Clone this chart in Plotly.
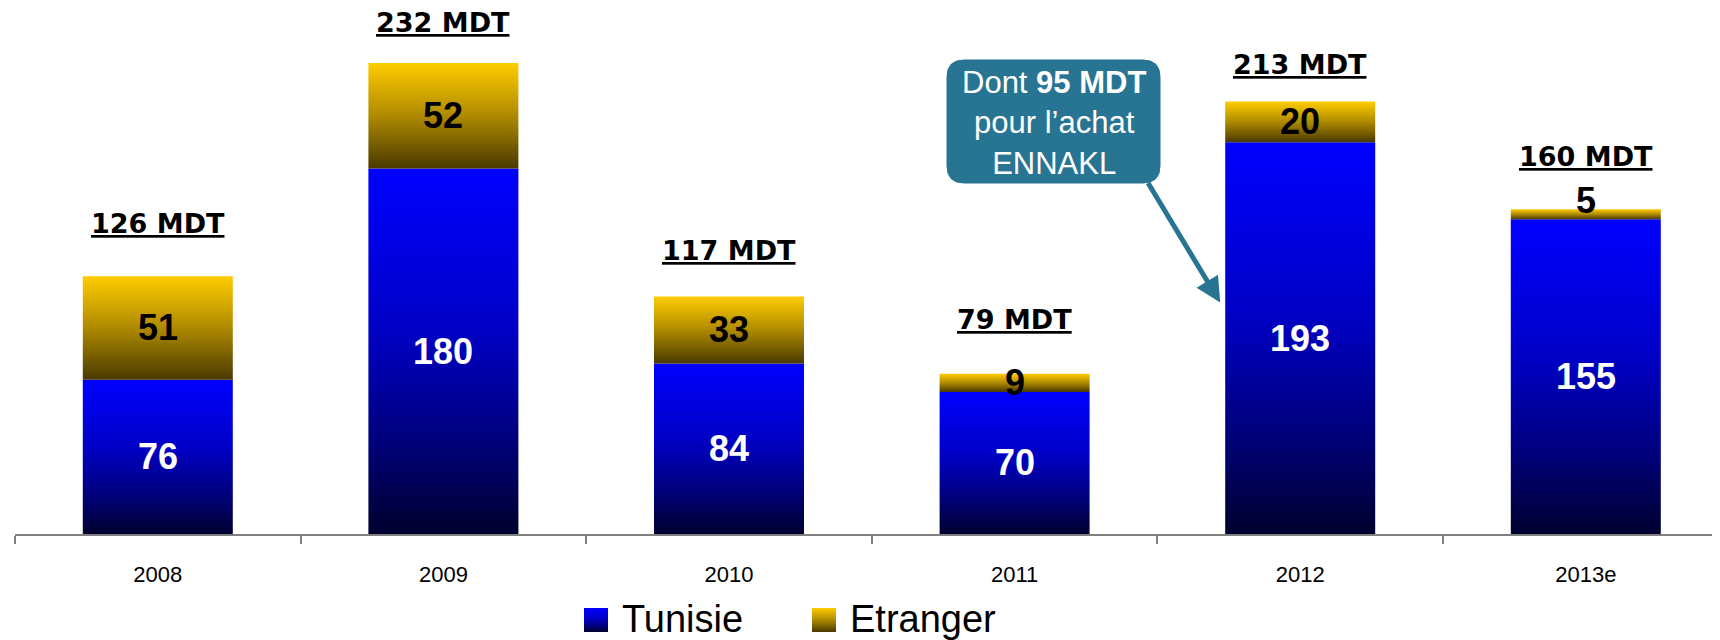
import plotly.graph_objects as go

# ---------------- data ----------------
years = ["2008", "2009", "2010", "2011", "2012", "2013e"]
tunisie = [76, 180, 84, 70, 193, 155]
etranger = [51, 52, 33, 9, 20, 5]
totals = [126, 232, 117, 79, 213, 160]
series_names = ["Tunisie", "Etranger"]
callout_text = "Dont <b>95 MDT</b><br>pour l’achat<br>ENNAKL"
callout_year = "2012"

# ---------------- layout constants ----------------
# the page body has an 8px margin, so the figure is drawn 8px smaller
W, H = 1712, 632
AXIS_Y = 526          # figure pixel row of the x axis line
X0 = 7                # figure pixel column where the x axis starts
CAT_W = 285.6         # pixel width of one category
PX_PER_UNIT = 2.03
BAR_HALF = 75 / CAT_W
FONT = "Liberation Sans, Arial, sans-serif"
WIDE_FONT = "DejaVu Sans, Liberation Sans, Arial, sans-serif"

blue_scale = [[0, "#00002e"], [0.25, "#00007a"], [0.55, "#0000c4"], [1, "#0000ff"]]
gold_scale = [[0, "#4a3900"], [0.5, "#ae8a00"], [1, "#ffcc00"]]
scales = {"Tunisie": blue_scale, "Etranger": gold_scale}
CALLOUT = "#287493"

def py(y):  # figure pixel row -> overlay axis value
    return H - y

fig = go.Figure()

# stacked bars drawn as gradient-filled rectangles on a numeric axis
for i, yr in enumerate(years):
    base = 0
    for name, vals in zip(series_names, [tunisie, etranger]):
        v = vals[i]
        xa, xb = i - BAR_HALF, i + BAR_HALF
        fig.add_trace(go.Scatter(
            x=[xa, xb, xb, xa, xa], y=[base, base, base + v, base + v, base],
            fill="toself", mode="lines", line=dict(width=0),
            fillgradient=dict(type="vertical", colorscale=scales[name]),
            hoveron="fills", name=name, text=f"{yr} {name}: {v}", hoverinfo="text",
            showlegend=False, xaxis="x", yaxis="y"))
        base += v

# value labels
for i in range(len(years)):
    fig.add_annotation(x=i, y=tunisie[i] / 2, text=f"<b>{tunisie[i]}</b>",
                       showarrow=False, font=dict(family=FONT, size=36, color="white"))
    fig.add_annotation(x=i, y=tunisie[i] + etranger[i] / 2, text=f"<b>{etranger[i]}</b>",
                       showarrow=False, yshift=14 if etranger[i] < 8 else 0,
                       font=dict(family=FONT, size=36, color="black"))

# total labels
total_shift = [53, 41, 46, 54, 37, 53]
for i in range(len(years)):
    fig.add_annotation(x=i, y=tunisie[i] + etranger[i], text=f"<b><u>{totals[i]} MDT</u></b>",
                       showarrow=False, yshift=total_shift[i], yanchor="middle",
                       font=dict(family=WIDE_FONT, size=27, color="black"))

# callout box
bx0, bx1, by0, by1, r = 939, 1152, 52, 175, 17
path = (f"M{bx0+r},{py(by0)} H{bx1-r} Q{bx1},{py(by0)} {bx1},{py(by0+r)} "
        f"V{py(by1-r)} Q{bx1},{py(by1)} {bx1-r},{py(by1)} H{bx0+r} "
        f"Q{bx0},{py(by1)} {bx0},{py(by1-r)} V{py(by0+r)} Q{bx0},{py(by0)} {bx0+r},{py(by0)} Z")
fig.add_shape(type="path", path=path, xref="x3", yref="y3",
              fillcolor=CALLOUT, line=dict(color=CALLOUT, width=1), layer="above")
fig.add_annotation(x=(bx0 + bx1) / 2, y=py((by0 + by1) / 2 + 1), xref="x3", yref="y3",
                   text=callout_text, showarrow=False, align="center",
                   font=dict(family=FONT, size=31, color="white"))

# arrow pointing to the 2012 bar
ci = years.index(callout_year)
fig.add_annotation(x=ci - BAR_HALF, y=114, xref="x", yref="y", text="", xshift=-5,
                   showarrow=True, ax=-73, ay=-121, axref="pixel", ayref="pixel",
                   arrowcolor=CALLOUT, arrowwidth=5, arrowhead=2, arrowsize=1)

# manual legend (gradient squares)
leg = [("Tunisie", 576, 612), ("Etranger", 804, 840)]
for name, sx, tx in leg:
    fig.add_trace(go.Scatter(
        x=[sx, sx + 24, sx + 24, sx, sx], y=[py(624), py(624), py(600), py(600), py(624)],
        fill="toself", mode="lines", line=dict(width=0),
        fillgradient=dict(type="vertical", colorscale=scales[name]),
        hoverinfo="skip", showlegend=False, xaxis="x3", yaxis="y3"))
    fig.add_annotation(x=tx, y=py(611), xref="x3", yref="y3", text=name, showarrow=False,
                       xanchor="left", yanchor="middle",
                       font=dict(family=FONT, size=38, color="black"))

fig.update_layout(
    width=W, height=H, margin=dict(l=0, r=0, t=0, b=0),
    paper_bgcolor="white", plot_bgcolor="rgba(0,0,0,0)", showlegend=False,
    xaxis=dict(domain=[X0 / W, 1], range=[-0.5, -0.5 + (W - X0) / CAT_W],
               tickmode="array", tickvals=list(range(len(years))), ticktext=years,
               ticks="", showline=True, linecolor="#808080", linewidth=2,
               showgrid=False, zeroline=False, ticklabelstandoff=20,
               tickfont=dict(family=FONT, size=22, color="black"),
               minor=dict(tickmode="array", tickvals=[k - 0.5 for k in range(len(years) + 1)],
                          ticks="outside", ticklen=8, tickcolor="#808080", tickwidth=2,
                          showgrid=False),
               fixedrange=True, anchor="y"),
    yaxis=dict(domain=[(H - AXIS_Y) / H, 1], range=[0, AXIS_Y / PX_PER_UNIT],
               visible=False, fixedrange=True, anchor="x"),
    xaxis3=dict(domain=[0, 1], range=[0, W], visible=False, anchor="y3", fixedrange=True),
    yaxis3=dict(domain=[0, 1], range=[0, H], visible=False, anchor="x3", fixedrange=True),
)

fig.write_html("out.html")
